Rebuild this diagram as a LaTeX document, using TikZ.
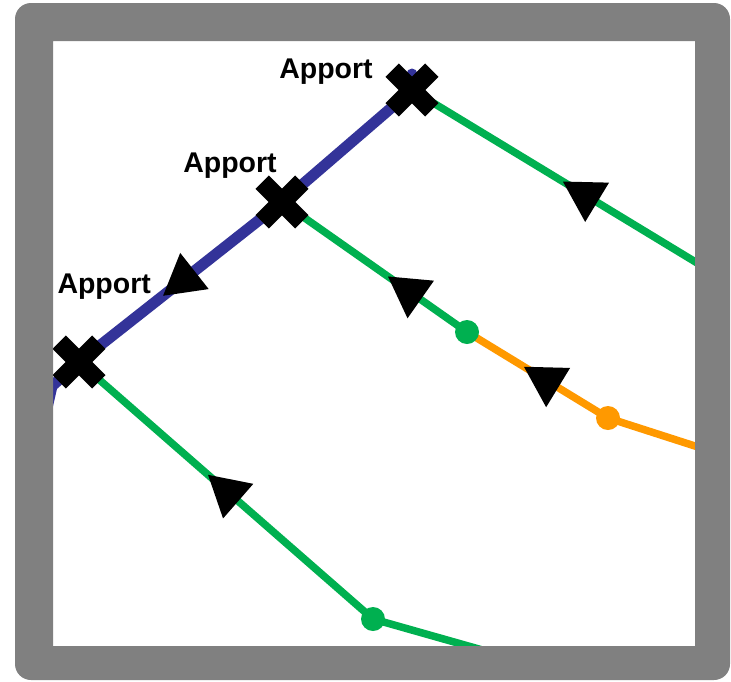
\documentclass[tikz,border=0pt]{standalone}
\usepackage{fontspec}
\setmainfont{Liberation Sans}
\usetikzlibrary{calc}
\definecolor{flowgreen}{HTML}{00B050}
\definecolor{floworange}{HTML}{FF9900}
\definecolor{flowblue}{HTML}{333399}
\definecolor{framegray}{HTML}{808080}
\newcommand{\flowtip}[2]{%
  \path ($(#1)!-40pt!(#2)$) coordinate (tipbase);
  \fill[black] (#1) -- ($(tipbase)!23pt!90:(#1)$) -- ($(tipbase)!23pt!-90:(#1)$) -- cycle;}
\newcommand{\apportcross}[1]{%
  \draw[crossbar] ($(#1)+(-19.8,-19.8)$) -- ($(#1)+(19.8,19.8)$);
  \draw[crossbar] ($(#1)+(-19.8,19.8)$) -- ($(#1)+(19.8,-19.8)$);}
\begin{document}
\begin{tikzpicture}[x=1pt,y=-1pt,
  greenline/.style={draw=flowgreen, line width=7.5pt, line cap=butt, line join=round},
  orangeline/.style={draw=floworange, line width=7.5pt, line cap=butt, line join=round},
  blueline/.style={draw=flowblue, line width=11pt, line cap=round, line join=round},
  crossbar/.style={line width=19pt, line cap=butt, draw=black},
  flowdot/.style={circle, inner sep=0pt, minimum size=24pt},
  apportlabel/.style={font=\bfseries\fontsize{28.5}{34}\selectfont, inner sep=0pt, anchor=base}]
\useasboundingbox (0,0) rectangle (731,681);
\fill[white] (0,0) rectangle (731,681);
% positions
\coordinate (X1) at (79,362);
\coordinate (X2) at (282,202);
\coordinate (X3) at (412,90);
\coordinate (G1) at (467,332);
\coordinate (O1) at (608,418);
\coordinate (G2) at (373,619);
\coordinate (E1) at (712,272);
\coordinate (E2) at (712,451.5);
\coordinate (E3) at (500,655);
\coordinate (BL1) at (52,386);
\coordinate (BL2) at (47,408);
\coordinate (BT) at (412,74);
% lines
\draw[blueline] (BL2) -- (BL1) -- (X1) -- (X2) -- (X3) -- (BT);
\draw[greenline] (X3) -- (E1);
\draw[greenline] (X2) -- (G1);
\draw[orangeline] (G1) -- (O1) -- (E2);
\draw[greenline] (X1) -- (G2) -- (E3);
% arrowheads
\coordinate (T1) at ($(X2)!0.586!(X1)$);
\coordinate (T2) at ($(G1)!0.427!(X2)$);
\coordinate (T3) at ($(O1)!0.596!(G1)$);
\coordinate (T4) at ($(X3)!0.503!(E1)$);
\coordinate (T5) at ($(G2)!0.561!(X1)$);
\flowtip{T1}{X1}
\flowtip{T2}{X2}
\flowtip{T3}{G1}
\flowtip{T4}{X3}
\flowtip{T5}{X1}
% dots
\node[flowdot, fill=flowgreen] (dotG1) at (G1) {};
\node[flowdot, fill=floworange] (dotO1) at (O1) {};
\node[flowdot, fill=flowgreen] (dotG2) at (G2) {};
% crosses
\apportcross{X1}
\apportcross{X2}
\apportcross{X3}
% labels
\node[apportlabel] (lab3) at (326,78.3) {Apport};
\node[apportlabel] (lab2) at (230,172) {Apport};
\node[apportlabel] (lab1) at (104.2,293) {Apport};
% frame
\fill[framegray, even odd rule] [rounded corners=16pt] (15,3) rectangle (730,680) [sharp corners] (53,41) rectangle (695,646);
\end{tikzpicture}
\end{document}
